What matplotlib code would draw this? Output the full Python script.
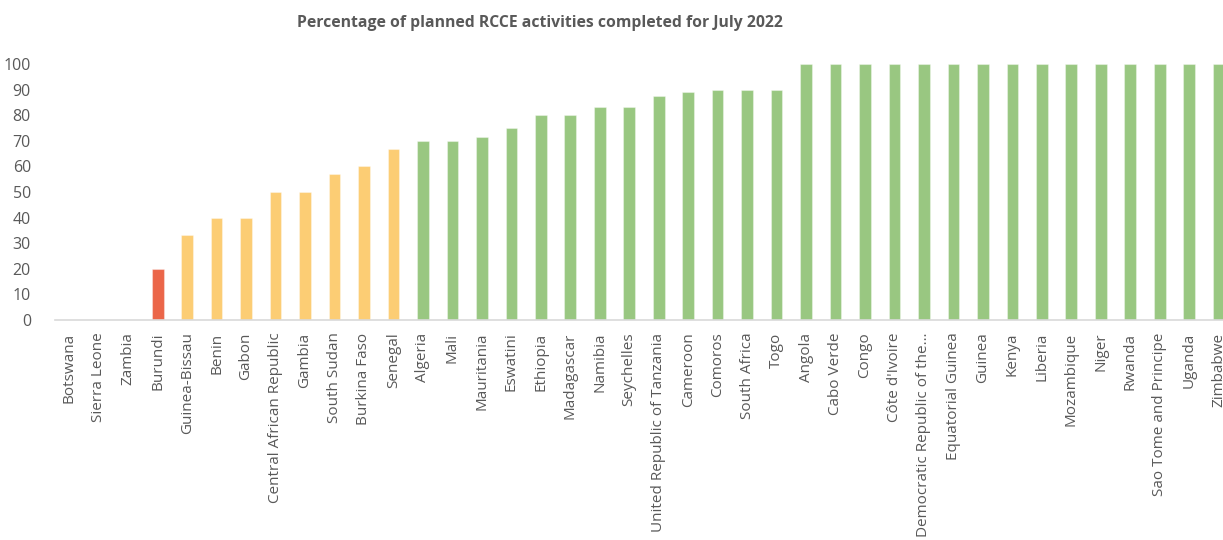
import matplotlib
matplotlib.use("Agg")
import matplotlib.pyplot as plt

countries = [
    "Botswana", "Sierra Leone", "Zambia", "Burundi", "Guinea-Bissau", "Benin",
    "Gabon", "Central African Republic", "Gambia", "South Sudan", "Burkina Faso",
    "Senegal", "Algeria", "Mali", "Mauritania", "Eswatini", "Ethiopia",
    "Madagascar", "Namibia", "Seychelles", "United Republic of Tanzania",
    "Cameroon", "Comoros", "South Africa", "Togo", "Angola", "Cabo Verde",
    "Congo", "Côte d'Ivoire", "Democratic Republic of the\u2026",
    "Equatorial Guinea", "Guinea", "Kenya", "Liberia", "Mozambique", "Niger",
    "Rwanda", "Sao Tome and Principe", "Uganda", "Zimbabwe",
]
completed_pct = [
    0, 0, 0, 20, 33.3, 40,
    40, 50, 50, 57.1, 60,
    66.7, 70, 70, 71.4, 75, 80,
    80, 83.3, 83.3, 87.5,
    88.9, 90, 90, 90, 100, 100,
    100, 100, 100,
    100, 100, 100, 100, 100, 100,
    100, 100, 100, 100,
]
title = "Percentage of planned RCCE activities completed for July 2022"
y_ticks = list(range(0, 101, 10))


def band_colour(v):
    if v < 30:
        return "#EB6649"
    if v < 70:
        return "#FCCD74"
    return "#99C781"


colours = [band_colour(v) for v in completed_pct]
text_grey = "#595959"
font = ["Open Sans", "DejaVu Sans"]

fig = plt.figure(figsize=(12.23, 5.40), dpi=100)
# the plot area runs a little past the right edge of the figure
ax = fig.add_axes([0.0446, 0.4074, 0.9639, 0.4741])

x = list(range(len(countries)))
ax.bar(x, completed_pct, width=0.395, color=colours,
       edgecolor=(1, 1, 1, 0.35), linewidth=0.8, zorder=2)

ax.set_xlim(-0.5, len(countries) - 0.5)
ax.set_ylim(0, 100)
ax.set_yticks(y_ticks)
ax.set_yticklabels([str(t) for t in y_ticks], fontsize=11.5,
                   color=text_grey, family=font)
ax.set_xticks(x)
ax.set_xticklabels(countries, rotation=90, ha="center", va="top",
                   fontsize=11, color=text_grey, family=font)
ax.tick_params(axis="both", length=0)
ax.tick_params(axis="x", pad=9)
ax.tick_params(axis="y", pad=17)

for side in ("top", "right", "left"):
    ax.spines[side].set_visible(False)
ax.spines["bottom"].set_color("#D9D9D9")
ax.spines["bottom"].set_linewidth(1.2)

fig.text(0.4415, 0.957, title, ha="center", va="center", fontsize=11.3,
         fontweight="bold", color=text_grey, family=font)

fig.savefig("out.png", dpi=100, facecolor="white")
